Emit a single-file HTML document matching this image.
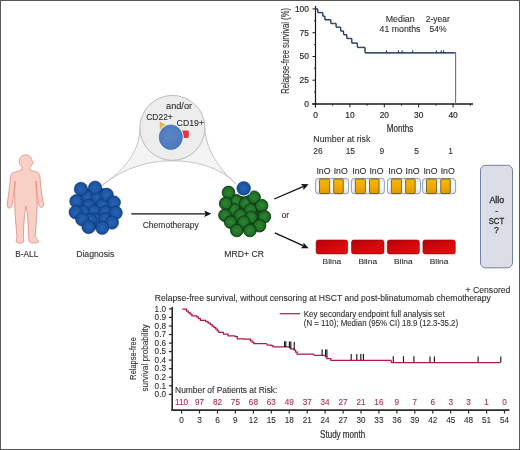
<!DOCTYPE html>
<html><head><meta charset="utf-8"><style>
html,body{margin:0;padding:0;background:#fff;}
svg{display:block;will-change:transform;}
text{font-family:"Liberation Sans", sans-serif;}
</style></head><body>
<svg width="520" height="450" viewBox="0 0 520 450">
<rect x="0.5" y="0.5" width="519" height="449" fill="#fff" stroke="#575757" stroke-width="1"/>
<path d="M22.3,167.2 C20,165.5 19.2,163.5 19.2,161 C19.2,157.5 22,154.9 25.6,154.9 C29.3,154.9 31.9,157.5 31.9,160.5 L32.8,161.5 C33.3,162.5 33,164 32,164.3 C31.5,165.8 30.5,167 29.6,167.6 L29.8,169.8 C32,171 35.5,171.5 37.5,172.3 C39,173 39.8,175 40,177.5 L40.8,186 L41.8,195 L43.2,201.5 C44.3,204 43.6,207 41.8,207.3 C40,207.6 38.8,205.8 38.5,203.5 L37.6,196 L36.3,186 L35.8,181 L36.4,190 L36.8,197 L37.2,204 L36.8,215 L35.8,228 L35.2,236.5 C36.5,238.5 38.8,240.5 38.6,242 C38,243.2 31,243.2 29.5,242.2 C28.7,241 28.8,238.5 28.6,236.5 L28.2,226 L27.6,214 L26,206 L24.6,214 L23.7,226 L23.4,236.5 C23.6,238.5 24,241 23.5,242.2 C22.5,243.3 18,243.3 16.6,242.3 C15.8,241 16.5,238.5 16.9,236.5 L16.2,228 L15.2,215 L14.8,204 L14.6,197 L14.7,190 L15.2,181 L14.5,186 L13.3,196 L12.4,203.5 C12.1,206 11,208.4 9.2,208.2 C7.4,208 7,205 7.5,202 L8.5,195 L9.6,186 L10.4,177.5 C10.6,175 11.5,173.2 13.5,172.5 C16,171.7 19.5,171 21.8,169.8 Z" fill="#f9d0c6" stroke="#e28e86" stroke-width="0.85" stroke-linejoin="round"/>
<text x="26.8" y="256.8" font-size="8.8" fill="#2e2e2e" stroke="#2e2e2e" stroke-width="0.1" text-anchor="middle" textLength="23" lengthAdjust="spacingAndGlyphs">B-ALL</text>
<path d="M140,128 C140,150 125,170 102.3,185.2 C125,167 150,160.8 172.5,160.8 C195,160.8 220,167 236,184 C221,171 205.5,150 204.9,128 Z" fill="#f4f4f4" stroke="#b8b8b8" stroke-width="0.8"/>
<circle cx="172.4" cy="127.9" r="32.5" fill="#ededed" stroke="#b4b4b4" stroke-width="0.9"/>
<defs><radialGradient id="gb" cx="0.45" cy="0.45" r="0.6"><stop offset="0" stop-color="#5a86c4"/><stop offset="1" stop-color="#4a78bc"/></radialGradient><radialGradient id="gblue" cx="0.5" cy="0.5" r="0.55"><stop offset="0" stop-color="#2864b0"/><stop offset="0.65" stop-color="#1c55a3"/><stop offset="1" stop-color="#113f86"/></radialGradient><radialGradient id="ggreen" cx="0.5" cy="0.5" r="0.55"><stop offset="0" stop-color="#2d8533"/><stop offset="0.6" stop-color="#237229"/><stop offset="1" stop-color="#0f4413"/></radialGradient><linearGradient id="gold" x1="0" y1="0" x2="0" y2="1"><stop offset="0" stop-color="#f3b80a"/><stop offset="0.5" stop-color="#f0ac04"/><stop offset="1" stop-color="#e29600"/></linearGradient><linearGradient id="goldh" x1="0" y1="0" x2="1" y2="0"><stop offset="0" stop-color="#b07800" stop-opacity="0.5"/><stop offset="0.2" stop-color="#b07800" stop-opacity="0"/><stop offset="0.8" stop-color="#b07800" stop-opacity="0"/><stop offset="1" stop-color="#b07800" stop-opacity="0.5"/></linearGradient><linearGradient id="red" x1="0" y1="0" x2="1" y2="1"><stop offset="0" stop-color="#b4000a"/><stop offset="0.55" stop-color="#d20a0c"/><stop offset="1" stop-color="#e0100c"/></linearGradient><linearGradient id="inoBg" x1="0" y1="0" x2="0" y2="1"><stop offset="0" stop-color="#e6e8ee"/><stop offset="0.5" stop-color="#fafafa"/><stop offset="1" stop-color="#e2e4ea"/></linearGradient></defs>
<polygon points="160,122.3 167.5,126.2 160.3,129.4" fill="#f2b433" stroke="#d99a18" stroke-width="0.5"/>
<rect x="181.6" y="130.4" width="7.2" height="7.6" rx="1.4" fill="#e8323e"/>
<ellipse cx="170.8" cy="137.2" rx="12.9" ry="13.7" fill="#e2eef8"/>
<ellipse cx="170.8" cy="137.2" rx="11.6" ry="12.3" fill="url(#gb)" stroke="#3f6aa8" stroke-width="0.6"/>
<text x="179.05" y="108.7" font-size="8.6" fill="#2e2e2e" stroke="#2e2e2e" stroke-width="0.1" text-anchor="middle" textLength="26" lengthAdjust="spacingAndGlyphs">and/or</text>
<text x="146.2" y="120.4" font-size="8.3" fill="#2e2e2e" stroke="#2e2e2e" stroke-width="0.1" textLength="26.6" lengthAdjust="spacingAndGlyphs">CD22+</text>
<text x="176.6" y="126.3" font-size="8.3" fill="#2e2e2e" stroke="#2e2e2e" stroke-width="0.1" textLength="27.4" lengthAdjust="spacingAndGlyphs">CD19+</text>
<ellipse cx="96" cy="208" rx="21" ry="21" fill="#164a96"/>
<circle cx="87.4" cy="197.4" r="6.7" fill="url(#gblue)" stroke="#0f3b80" stroke-width="0.6"/>
<circle cx="97.7" cy="198" r="6.7" fill="url(#gblue)" stroke="#0f3b80" stroke-width="0.6"/>
<circle cx="88.6" cy="205.7" r="6.7" fill="url(#gblue)" stroke="#0f3b80" stroke-width="0.6"/>
<circle cx="102.8" cy="204.5" r="6.7" fill="url(#gblue)" stroke="#0f3b80" stroke-width="0.6"/>
<circle cx="93.8" cy="211.5" r="6.7" fill="url(#gblue)" stroke="#0f3b80" stroke-width="0.6"/>
<circle cx="105.4" cy="212.2" r="6.7" fill="url(#gblue)" stroke="#0f3b80" stroke-width="0.6"/>
<circle cx="83" cy="212" r="6.7" fill="url(#gblue)" stroke="#0f3b80" stroke-width="0.6"/>
<circle cx="95" cy="219.3" r="6.7" fill="url(#gblue)" stroke="#0f3b80" stroke-width="0.6"/>
<circle cx="105.4" cy="219.3" r="6.7" fill="url(#gblue)" stroke="#0f3b80" stroke-width="0.6"/>
<circle cx="90" cy="220" r="6.7" fill="url(#gblue)" stroke="#0f3b80" stroke-width="0.6"/>
<circle cx="80.9" cy="189" r="6.7" fill="url(#gblue)" stroke="#0f3b80" stroke-width="0.6"/>
<circle cx="95.1" cy="187.7" r="6.7" fill="url(#gblue)" stroke="#0f3b80" stroke-width="0.6"/>
<circle cx="106.7" cy="194.8" r="6.7" fill="url(#gblue)" stroke="#0f3b80" stroke-width="0.6"/>
<circle cx="76.4" cy="201.2" r="6.7" fill="url(#gblue)" stroke="#0f3b80" stroke-width="0.6"/>
<circle cx="113.8" cy="202.5" r="6.7" fill="url(#gblue)" stroke="#0f3b80" stroke-width="0.6"/>
<circle cx="75.7" cy="212.2" r="6.7" fill="url(#gblue)" stroke="#0f3b80" stroke-width="0.6"/>
<circle cx="115.7" cy="212.8" r="6.7" fill="url(#gblue)" stroke="#0f3b80" stroke-width="0.6"/>
<circle cx="82.2" cy="219.3" r="6.7" fill="url(#gblue)" stroke="#0f3b80" stroke-width="0.6"/>
<circle cx="111.9" cy="222.5" r="6.7" fill="url(#gblue)" stroke="#0f3b80" stroke-width="0.6"/>
<circle cx="88.6" cy="227" r="6.7" fill="url(#gblue)" stroke="#0f3b80" stroke-width="0.6"/>
<circle cx="102.2" cy="227.7" r="6.7" fill="url(#gblue)" stroke="#0f3b80" stroke-width="0.6"/>
<text x="95.25" y="256.7" font-size="8.6" fill="#2e2e2e" stroke="#2e2e2e" stroke-width="0.1" text-anchor="middle" textLength="38.2" lengthAdjust="spacingAndGlyphs">Diagnosis</text>
<ellipse cx="245" cy="212" rx="19" ry="19" fill="#155019"/>
<circle cx="236.1" cy="200.8" r="6.4" fill="url(#ggreen)" stroke="#0e3f12" stroke-width="0.8"/>
<circle cx="245.7" cy="203.5" r="6.4" fill="url(#ggreen)" stroke="#0e3f12" stroke-width="0.8"/>
<circle cx="234" cy="209.7" r="6.4" fill="url(#ggreen)" stroke="#0e3f12" stroke-width="0.8"/>
<circle cx="250.6" cy="209.7" r="6.4" fill="url(#ggreen)" stroke="#0e3f12" stroke-width="0.8"/>
<circle cx="240.2" cy="215.2" r="6.4" fill="url(#ggreen)" stroke="#0e3f12" stroke-width="0.8"/>
<circle cx="251.2" cy="217.3" r="6.4" fill="url(#ggreen)" stroke="#0e3f12" stroke-width="0.8"/>
<circle cx="243.7" cy="222.1" r="6.4" fill="url(#ggreen)" stroke="#0e3f12" stroke-width="0.8"/>
<circle cx="228.5" cy="192.5" r="6.4" fill="url(#ggreen)" stroke="#0e3f12" stroke-width="0.8"/>
<circle cx="254" cy="197.3" r="6.4" fill="url(#ggreen)" stroke="#0e3f12" stroke-width="0.8"/>
<circle cx="225.7" cy="203.5" r="6.4" fill="url(#ggreen)" stroke="#0e3f12" stroke-width="0.8"/>
<circle cx="261.6" cy="205.6" r="6.4" fill="url(#ggreen)" stroke="#0e3f12" stroke-width="0.8"/>
<circle cx="225" cy="215.2" r="6.4" fill="url(#ggreen)" stroke="#0e3f12" stroke-width="0.8"/>
<circle cx="264.3" cy="216.6" r="6.4" fill="url(#ggreen)" stroke="#0e3f12" stroke-width="0.8"/>
<circle cx="230.6" cy="222.1" r="6.4" fill="url(#ggreen)" stroke="#0e3f12" stroke-width="0.8"/>
<circle cx="259.5" cy="225.6" r="6.4" fill="url(#ggreen)" stroke="#0e3f12" stroke-width="0.8"/>
<circle cx="236.8" cy="230.4" r="6.4" fill="url(#ggreen)" stroke="#0e3f12" stroke-width="0.8"/>
<circle cx="249.9" cy="230.4" r="6.4" fill="url(#ggreen)" stroke="#0e3f12" stroke-width="0.8"/>
<circle cx="243.7" cy="188.3" r="8.2" fill="#fff"/>
<circle cx="243.7" cy="188.3" r="6.9" fill="url(#gblue)" stroke="#15448e" stroke-width="0.5"/>
<text x="244.1" y="256.7" font-size="8.6" fill="#2e2e2e" stroke="#2e2e2e" stroke-width="0.1" text-anchor="middle" textLength="39.6" lengthAdjust="spacingAndGlyphs">MRD+ CR</text>
<line x1="131.2" y1="213.8" x2="205.30" y2="213.80" stroke="#111" stroke-width="1.3"/>
<polygon points="211.3,213.8 204.30,217.00 205.50,213.80 204.30,210.60" fill="#111"/>
<text x="170.7" y="228" font-size="8.5" fill="#2e2e2e" stroke="#2e2e2e" stroke-width="0.1" text-anchor="middle" textLength="56" lengthAdjust="spacingAndGlyphs">Chemotherapy</text>
<line x1="274.2" y1="199" x2="303.09" y2="186.57" stroke="#111" stroke-width="1.3"/>
<polygon points="308.6,184.2 303.43,189.91 303.27,186.49 300.91,184.03" fill="#111"/>
<line x1="274.8" y1="232.8" x2="303.14" y2="245.71" stroke="#111" stroke-width="1.3"/>
<polygon points="308.6,248.2 300.90,248.21 303.32,245.80 303.56,242.39" fill="#111"/>
<text x="285.2" y="218" font-size="8.5" fill="#2e2e2e" stroke="#2e2e2e" stroke-width="0.1" text-anchor="middle" textLength="7.6" lengthAdjust="spacingAndGlyphs">or</text>
<rect x="315.59999999999997" y="178.4" width="33" height="15.4" rx="3" fill="url(#inoBg)" stroke="#8292b4" stroke-width="0.9"/>
<rect x="319.5" y="179.0" width="10.1" height="14.5" rx="1.2" fill="url(#gold)" stroke="#5e5428" stroke-width="0.8"/>
<rect x="333.7" y="179.0" width="9.6" height="14.5" rx="1.2" fill="url(#gold)" stroke="#5e5428" stroke-width="0.8"/>
<text x="323.5" y="173.5" font-size="8.2" fill="#2e2e2e" stroke="#2e2e2e" stroke-width="0.1" text-anchor="middle" textLength="14.1" lengthAdjust="spacingAndGlyphs">InO</text>
<text x="340.7" y="173.5" font-size="8.2" fill="#2e2e2e" stroke="#2e2e2e" stroke-width="0.1" text-anchor="middle" textLength="14.1" lengthAdjust="spacingAndGlyphs">InO</text>
<rect x="351.4" y="178.4" width="33" height="15.4" rx="3" fill="url(#inoBg)" stroke="#8292b4" stroke-width="0.9"/>
<rect x="355.3" y="179.0" width="10.1" height="14.5" rx="1.2" fill="url(#gold)" stroke="#5e5428" stroke-width="0.8"/>
<rect x="369.5" y="179.0" width="9.6" height="14.5" rx="1.2" fill="url(#gold)" stroke="#5e5428" stroke-width="0.8"/>
<text x="359.3" y="173.5" font-size="8.2" fill="#2e2e2e" stroke="#2e2e2e" stroke-width="0.1" text-anchor="middle" textLength="14.1" lengthAdjust="spacingAndGlyphs">InO</text>
<text x="376.5" y="173.5" font-size="8.2" fill="#2e2e2e" stroke="#2e2e2e" stroke-width="0.1" text-anchor="middle" textLength="14.1" lengthAdjust="spacingAndGlyphs">InO</text>
<rect x="387.5" y="178.4" width="33" height="15.4" rx="3" fill="url(#inoBg)" stroke="#8292b4" stroke-width="0.9"/>
<rect x="391.40000000000003" y="179.0" width="10.1" height="14.5" rx="1.2" fill="url(#gold)" stroke="#5e5428" stroke-width="0.8"/>
<rect x="405.6" y="179.0" width="9.6" height="14.5" rx="1.2" fill="url(#gold)" stroke="#5e5428" stroke-width="0.8"/>
<text x="395.40000000000003" y="173.5" font-size="8.2" fill="#2e2e2e" stroke="#2e2e2e" stroke-width="0.1" text-anchor="middle" textLength="14.1" lengthAdjust="spacingAndGlyphs">InO</text>
<text x="412.6" y="173.5" font-size="8.2" fill="#2e2e2e" stroke="#2e2e2e" stroke-width="0.1" text-anchor="middle" textLength="14.1" lengthAdjust="spacingAndGlyphs">InO</text>
<rect x="422.59999999999997" y="178.4" width="33" height="15.4" rx="3" fill="url(#inoBg)" stroke="#8292b4" stroke-width="0.9"/>
<rect x="426.5" y="179.0" width="10.1" height="14.5" rx="1.2" fill="url(#gold)" stroke="#5e5428" stroke-width="0.8"/>
<rect x="440.7" y="179.0" width="9.6" height="14.5" rx="1.2" fill="url(#gold)" stroke="#5e5428" stroke-width="0.8"/>
<text x="430.5" y="173.5" font-size="8.2" fill="#2e2e2e" stroke="#2e2e2e" stroke-width="0.1" text-anchor="middle" textLength="14.1" lengthAdjust="spacingAndGlyphs">InO</text>
<text x="447.7" y="173.5" font-size="8.2" fill="#2e2e2e" stroke="#2e2e2e" stroke-width="0.1" text-anchor="middle" textLength="14.1" lengthAdjust="spacingAndGlyphs">InO</text>
<rect x="316.1" y="240" width="31.6" height="13.9" rx="2.2" fill="url(#red)" stroke="#a0000a" stroke-width="0.6"/>
<text x="331.9" y="264.3" font-size="8.0" fill="#2e2e2e" stroke="#2e2e2e" stroke-width="0.1" text-anchor="middle" textLength="18.6" lengthAdjust="spacingAndGlyphs">Blina</text>
<rect x="351.5" y="240" width="32.5" height="13.9" rx="2.2" fill="url(#red)" stroke="#a0000a" stroke-width="0.6"/>
<text x="367.75" y="264.3" font-size="8.0" fill="#2e2e2e" stroke="#2e2e2e" stroke-width="0.1" text-anchor="middle" textLength="18.6" lengthAdjust="spacingAndGlyphs">Blina</text>
<rect x="387.3" y="240" width="32.1" height="13.9" rx="2.2" fill="url(#red)" stroke="#a0000a" stroke-width="0.6"/>
<text x="403.35" y="264.3" font-size="8.0" fill="#2e2e2e" stroke="#2e2e2e" stroke-width="0.1" text-anchor="middle" textLength="18.6" lengthAdjust="spacingAndGlyphs">Blina</text>
<rect x="422.9" y="240" width="32.4" height="13.9" rx="2.2" fill="url(#red)" stroke="#a0000a" stroke-width="0.6"/>
<text x="439.1" y="264.3" font-size="8.0" fill="#2e2e2e" stroke="#2e2e2e" stroke-width="0.1" text-anchor="middle" textLength="18.6" lengthAdjust="spacingAndGlyphs">Blina</text>
<rect x="480.5" y="165.3" width="32" height="102.5" rx="5" fill="#dcdde6" stroke="#6d80a8" stroke-width="1"/>
<text x="496.8" y="203.3" font-size="8.6" fill="#2e2e2e" stroke="#2e2e2e" stroke-width="0.3" text-anchor="middle" textLength="14.7" lengthAdjust="spacingAndGlyphs">Allo</text>
<text x="496.7" y="213.5" font-size="8.6" fill="#2e2e2e" stroke="#2e2e2e" stroke-width="0.3" text-anchor="middle">-</text>
<text x="496.4" y="223.9" font-size="8.6" fill="#2e2e2e" stroke="#2e2e2e" stroke-width="0.3" text-anchor="middle" textLength="15.4" lengthAdjust="spacingAndGlyphs">SCT</text>
<text x="496.4" y="233.3" font-size="8.6" fill="#2e2e2e" stroke="#2e2e2e" stroke-width="0.3" text-anchor="middle">?</text>
<line x1="315.5" y1="6" x2="315.5" y2="107.3" stroke="#1a1a1a" stroke-width="1.2"/>
<line x1="312.3" y1="104.0" x2="473" y2="104.0" stroke="#1a1a1a" stroke-width="1.5"/>
<line x1="312.5" y1="104.0" x2="315.5" y2="104.0" stroke="#1a1a1a" stroke-width="1"/>
<text x="308.9" y="106.9" font-size="8.4" fill="#2e2e2e" stroke="#2e2e2e" stroke-width="0.2" text-anchor="end">0</text>
<line x1="312.5" y1="80.2" x2="315.5" y2="80.2" stroke="#1a1a1a" stroke-width="1"/>
<text x="308.9" y="83.125" font-size="8.4" fill="#2e2e2e" stroke="#2e2e2e" stroke-width="0.2" text-anchor="end">25</text>
<line x1="312.5" y1="56.5" x2="315.5" y2="56.5" stroke="#1a1a1a" stroke-width="1"/>
<text x="308.9" y="59.35" font-size="8.4" fill="#2e2e2e" stroke="#2e2e2e" stroke-width="0.2" text-anchor="end">50</text>
<line x1="312.5" y1="32.7" x2="315.5" y2="32.7" stroke="#1a1a1a" stroke-width="1"/>
<text x="308.9" y="35.574999999999996" font-size="8.4" fill="#2e2e2e" stroke="#2e2e2e" stroke-width="0.2" text-anchor="end">75</text>
<line x1="312.5" y1="8.9" x2="315.5" y2="8.9" stroke="#1a1a1a" stroke-width="1"/>
<text x="308.9" y="11.800000000000006" font-size="8.4" fill="#2e2e2e" stroke="#2e2e2e" stroke-width="0.2" text-anchor="end">100</text>
<line x1="314" y1="92.1" x2="315.5" y2="92.1" stroke="#1a1a1a" stroke-width="0.9"/>
<line x1="314" y1="68.3" x2="315.5" y2="68.3" stroke="#1a1a1a" stroke-width="0.9"/>
<line x1="314" y1="44.6" x2="315.5" y2="44.6" stroke="#1a1a1a" stroke-width="0.9"/>
<line x1="314" y1="20.8" x2="315.5" y2="20.8" stroke="#1a1a1a" stroke-width="0.9"/>
<line x1="315.5" y1="104.1" x2="315.5" y2="107.3" stroke="#1a1a1a" stroke-width="1"/>
<text x="315.5" y="117.8" font-size="8.4" fill="#2e2e2e" stroke="#2e2e2e" stroke-width="0.2" text-anchor="middle">0</text>
<line x1="332.7" y1="104.1" x2="332.7" y2="105.69999999999999" stroke="#1a1a1a" stroke-width="1"/>
<line x1="349.9" y1="104.1" x2="349.9" y2="107.3" stroke="#1a1a1a" stroke-width="1"/>
<text x="349.9" y="117.8" font-size="8.4" fill="#2e2e2e" stroke="#2e2e2e" stroke-width="0.2" text-anchor="middle">10</text>
<line x1="367.1" y1="104.1" x2="367.1" y2="105.69999999999999" stroke="#1a1a1a" stroke-width="1"/>
<line x1="384.3" y1="104.1" x2="384.3" y2="107.3" stroke="#1a1a1a" stroke-width="1"/>
<text x="384.3" y="117.8" font-size="8.4" fill="#2e2e2e" stroke="#2e2e2e" stroke-width="0.2" text-anchor="middle">20</text>
<line x1="401.5" y1="104.1" x2="401.5" y2="105.69999999999999" stroke="#1a1a1a" stroke-width="1"/>
<line x1="418.7" y1="104.1" x2="418.7" y2="107.3" stroke="#1a1a1a" stroke-width="1"/>
<text x="418.7" y="117.8" font-size="8.4" fill="#2e2e2e" stroke="#2e2e2e" stroke-width="0.2" text-anchor="middle">30</text>
<line x1="435.9" y1="104.1" x2="435.9" y2="105.69999999999999" stroke="#1a1a1a" stroke-width="1"/>
<line x1="453.1" y1="104.1" x2="453.1" y2="107.3" stroke="#1a1a1a" stroke-width="1"/>
<text x="453.1" y="117.8" font-size="8.4" fill="#2e2e2e" stroke="#2e2e2e" stroke-width="0.2" text-anchor="middle">40</text>
<line x1="470.3" y1="104.1" x2="470.3" y2="105.69999999999999" stroke="#1a1a1a" stroke-width="1"/>
<text x="400" y="131.5" font-size="10" fill="#2e2e2e" stroke="#2e2e2e" stroke-width="0.2" text-anchor="middle" textLength="26.4" lengthAdjust="spacingAndGlyphs">Months</text>
<text transform="translate(289.2,93.7) rotate(-90)" font-size="10" fill="#2e2e2e" stroke="#2e2e2e" stroke-width="0.1" textLength="85.7" lengthAdjust="spacingAndGlyphs">Relapse-free survival (%)</text>
<path d="M315.5,8.8 H317.7 V12.4 H322.7 V16.0 H324.8 V19.6 H330.7 V23.3 H336.0 V27.0 H340.6 V30.9 H343.5 V34.5 H346.7 V38.3 H351.7 V42.9 H357.2 V47.2 H364.9 V52.7 H455.6" fill="none" stroke="#4a74b4" stroke-width="1.0" transform="translate(0.3,0.5)"/>
<path d="M315.5,8.8 H317.7 V12.4 H322.7 V16.0 H324.8 V19.6 H330.7 V23.3 H336.0 V27.0 H340.6 V30.9 H343.5 V34.5 H346.7 V38.3 H351.7 V42.9 H357.2 V47.2 H364.9 V52.7 H455.6" fill="none" stroke="#22324a" stroke-width="1.0"/>
<line x1="455.6" y1="52.2" x2="455.6" y2="104" stroke="#4d78b8" stroke-width="1.1"/>
<line x1="386.5" y1="50.4" x2="386.5" y2="52.8" stroke="#1e2c40" stroke-width="1"/>
<line x1="398.4" y1="50.4" x2="398.4" y2="52.8" stroke="#1e2c40" stroke-width="1"/>
<line x1="402.1" y1="50.4" x2="402.1" y2="52.8" stroke="#1e2c40" stroke-width="1"/>
<line x1="412.7" y1="50.4" x2="412.7" y2="52.8" stroke="#1e2c40" stroke-width="1"/>
<line x1="436.4" y1="50.4" x2="436.4" y2="52.8" stroke="#1e2c40" stroke-width="1"/>
<line x1="441.2" y1="50.4" x2="441.2" y2="52.8" stroke="#1e2c40" stroke-width="1"/>
<line x1="443.6" y1="50.4" x2="443.6" y2="52.8" stroke="#1e2c40" stroke-width="1"/>
<text x="400.2" y="22.3" font-size="8.5" fill="#2e2e2e" stroke="#2e2e2e" stroke-width="0.1" text-anchor="middle" textLength="29" lengthAdjust="spacingAndGlyphs">Median</text>
<text x="400" y="31.9" font-size="8.5" fill="#2e2e2e" stroke="#2e2e2e" stroke-width="0.1" text-anchor="middle" textLength="41" lengthAdjust="spacingAndGlyphs">41 months</text>
<text x="437.8" y="22.3" font-size="8.5" fill="#2e2e2e" stroke="#2e2e2e" stroke-width="0.1" text-anchor="middle" textLength="24" lengthAdjust="spacingAndGlyphs">2-year</text>
<text x="438" y="31.9" font-size="8.5" fill="#2e2e2e" stroke="#2e2e2e" stroke-width="0.1" text-anchor="middle" textLength="17" lengthAdjust="spacingAndGlyphs">54%</text>
<text x="313.3" y="142" font-size="8.5" fill="#2e2e2e" stroke="#2e2e2e" stroke-width="0.1" textLength="57" lengthAdjust="spacingAndGlyphs">Number at risk</text>
<text x="318" y="154.2" font-size="8.4" fill="#2e2e2e" stroke="#2e2e2e" stroke-width="0.1" text-anchor="middle">26</text>
<text x="350.3" y="154.2" font-size="8.4" fill="#2e2e2e" stroke="#2e2e2e" stroke-width="0.1" text-anchor="middle">15</text>
<text x="381.9" y="154.2" font-size="8.4" fill="#2e2e2e" stroke="#2e2e2e" stroke-width="0.1" text-anchor="middle">9</text>
<text x="416.5" y="154.2" font-size="8.4" fill="#2e2e2e" stroke="#2e2e2e" stroke-width="0.1" text-anchor="middle">5</text>
<text x="450.5" y="154.2" font-size="8.4" fill="#2e2e2e" stroke="#2e2e2e" stroke-width="0.1" text-anchor="middle">1</text>
<text x="154.8" y="301.1" font-size="8.3" fill="#2e2e2e" stroke="#2e2e2e" stroke-width="0.1" textLength="336" lengthAdjust="spacingAndGlyphs">Relapse-free survival, without censoring at HSCT and post-blinatumomab chemotherapy</text>
<text x="465.6" y="293.4" font-size="8.3" fill="#2e2e2e" stroke="#2e2e2e" stroke-width="0.1" textLength="44.8" lengthAdjust="spacingAndGlyphs">+ Censored</text>
<line x1="172.2" y1="307" x2="172.2" y2="410.9" stroke="#2a2a2a" stroke-width="1.6"/>
<line x1="171.4" y1="410.1" x2="509.4" y2="410.1" stroke="#2a2e2c" stroke-width="1.7"/>
<line x1="168.9" y1="394.3" x2="172.3" y2="394.3" stroke="#2a2a2a" stroke-width="1.2"/>
<text x="166" y="397.1" font-size="8.2" fill="#2e2e2e" stroke="#2e2e2e" stroke-width="0.1" text-anchor="end">0.0</text>
<line x1="168.9" y1="385.8" x2="172.3" y2="385.8" stroke="#2a2a2a" stroke-width="1.2"/>
<text x="166" y="388.56" font-size="8.2" fill="#2e2e2e" stroke="#2e2e2e" stroke-width="0.1" text-anchor="end">0.1</text>
<line x1="168.9" y1="377.2" x2="172.3" y2="377.2" stroke="#2a2a2a" stroke-width="1.2"/>
<text x="166" y="380.02000000000004" font-size="8.2" fill="#2e2e2e" stroke="#2e2e2e" stroke-width="0.1" text-anchor="end">0.2</text>
<line x1="168.9" y1="368.7" x2="172.3" y2="368.7" stroke="#2a2a2a" stroke-width="1.2"/>
<text x="166" y="371.48" font-size="8.2" fill="#2e2e2e" stroke="#2e2e2e" stroke-width="0.1" text-anchor="end">0.3</text>
<line x1="168.9" y1="360.1" x2="172.3" y2="360.1" stroke="#2a2a2a" stroke-width="1.2"/>
<text x="166" y="362.94" font-size="8.2" fill="#2e2e2e" stroke="#2e2e2e" stroke-width="0.1" text-anchor="end">0.4</text>
<line x1="168.9" y1="351.6" x2="172.3" y2="351.6" stroke="#2a2a2a" stroke-width="1.2"/>
<text x="166" y="354.40000000000003" font-size="8.2" fill="#2e2e2e" stroke="#2e2e2e" stroke-width="0.1" text-anchor="end">0.5</text>
<line x1="168.9" y1="343.1" x2="172.3" y2="343.1" stroke="#2a2a2a" stroke-width="1.2"/>
<text x="166" y="345.86" font-size="8.2" fill="#2e2e2e" stroke="#2e2e2e" stroke-width="0.1" text-anchor="end">0.6</text>
<line x1="168.9" y1="334.5" x2="172.3" y2="334.5" stroke="#2a2a2a" stroke-width="1.2"/>
<text x="166" y="337.32" font-size="8.2" fill="#2e2e2e" stroke="#2e2e2e" stroke-width="0.1" text-anchor="end">0.7</text>
<line x1="168.9" y1="326.0" x2="172.3" y2="326.0" stroke="#2a2a2a" stroke-width="1.2"/>
<text x="166" y="328.78000000000003" font-size="8.2" fill="#2e2e2e" stroke="#2e2e2e" stroke-width="0.1" text-anchor="end">0.8</text>
<line x1="168.9" y1="317.4" x2="172.3" y2="317.4" stroke="#2a2a2a" stroke-width="1.2"/>
<text x="166" y="320.24" font-size="8.2" fill="#2e2e2e" stroke="#2e2e2e" stroke-width="0.1" text-anchor="end">0.9</text>
<line x1="168.9" y1="308.9" x2="172.3" y2="308.9" stroke="#2a2a2a" stroke-width="1.2"/>
<text x="166" y="311.7" font-size="8.2" fill="#2e2e2e" stroke="#2e2e2e" stroke-width="0.1" text-anchor="end">1.0</text>
<line x1="181.6" y1="410.3" x2="181.6" y2="413.5" stroke="#2a2a2a" stroke-width="1.2"/>
<text x="181.6" y="423.4" font-size="8.2" fill="#2e2e2e" stroke="#2e2e2e" stroke-width="0.1" text-anchor="middle">0</text>
<text x="181.6" y="404.5" font-size="8.2" fill="#a8304e" stroke="#a8304e" stroke-width="0.1" text-anchor="middle">110</text>
<line x1="199.5" y1="410.3" x2="199.5" y2="413.5" stroke="#2a2a2a" stroke-width="1.2"/>
<text x="199.5" y="423.4" font-size="8.2" fill="#2e2e2e" stroke="#2e2e2e" stroke-width="0.1" text-anchor="middle">3</text>
<text x="199.5" y="404.5" font-size="8.2" fill="#a8304e" stroke="#a8304e" stroke-width="0.1" text-anchor="middle">97</text>
<line x1="217.5" y1="410.3" x2="217.5" y2="413.5" stroke="#2a2a2a" stroke-width="1.2"/>
<text x="217.5" y="423.4" font-size="8.2" fill="#2e2e2e" stroke="#2e2e2e" stroke-width="0.1" text-anchor="middle">6</text>
<text x="217.5" y="404.5" font-size="8.2" fill="#a8304e" stroke="#a8304e" stroke-width="0.1" text-anchor="middle">82</text>
<line x1="235.4" y1="410.3" x2="235.4" y2="413.5" stroke="#2a2a2a" stroke-width="1.2"/>
<text x="235.4" y="423.4" font-size="8.2" fill="#2e2e2e" stroke="#2e2e2e" stroke-width="0.1" text-anchor="middle">9</text>
<text x="235.4" y="404.5" font-size="8.2" fill="#a8304e" stroke="#a8304e" stroke-width="0.1" text-anchor="middle">75</text>
<line x1="253.4" y1="410.3" x2="253.4" y2="413.5" stroke="#2a2a2a" stroke-width="1.2"/>
<text x="253.4" y="423.4" font-size="8.2" fill="#2e2e2e" stroke="#2e2e2e" stroke-width="0.1" text-anchor="middle">12</text>
<text x="253.4" y="404.5" font-size="8.2" fill="#a8304e" stroke="#a8304e" stroke-width="0.1" text-anchor="middle">68</text>
<line x1="271.3" y1="410.3" x2="271.3" y2="413.5" stroke="#2a2a2a" stroke-width="1.2"/>
<text x="271.3" y="423.4" font-size="8.2" fill="#2e2e2e" stroke="#2e2e2e" stroke-width="0.1" text-anchor="middle">15</text>
<text x="271.3" y="404.5" font-size="8.2" fill="#a8304e" stroke="#a8304e" stroke-width="0.1" text-anchor="middle">63</text>
<line x1="289.2" y1="410.3" x2="289.2" y2="413.5" stroke="#2a2a2a" stroke-width="1.2"/>
<text x="289.2" y="423.4" font-size="8.2" fill="#2e2e2e" stroke="#2e2e2e" stroke-width="0.1" text-anchor="middle">18</text>
<text x="289.2" y="404.5" font-size="8.2" fill="#a8304e" stroke="#a8304e" stroke-width="0.1" text-anchor="middle">49</text>
<line x1="307.2" y1="410.3" x2="307.2" y2="413.5" stroke="#2a2a2a" stroke-width="1.2"/>
<text x="307.2" y="423.4" font-size="8.2" fill="#2e2e2e" stroke="#2e2e2e" stroke-width="0.1" text-anchor="middle">21</text>
<text x="307.2" y="404.5" font-size="8.2" fill="#a8304e" stroke="#a8304e" stroke-width="0.1" text-anchor="middle">37</text>
<line x1="325.1" y1="410.3" x2="325.1" y2="413.5" stroke="#2a2a2a" stroke-width="1.2"/>
<text x="325.1" y="423.4" font-size="8.2" fill="#2e2e2e" stroke="#2e2e2e" stroke-width="0.1" text-anchor="middle">24</text>
<text x="325.1" y="404.5" font-size="8.2" fill="#a8304e" stroke="#a8304e" stroke-width="0.1" text-anchor="middle">34</text>
<line x1="343.1" y1="410.3" x2="343.1" y2="413.5" stroke="#2a2a2a" stroke-width="1.2"/>
<text x="343.1" y="423.4" font-size="8.2" fill="#2e2e2e" stroke="#2e2e2e" stroke-width="0.1" text-anchor="middle">27</text>
<text x="343.1" y="404.5" font-size="8.2" fill="#a8304e" stroke="#a8304e" stroke-width="0.1" text-anchor="middle">27</text>
<line x1="361.0" y1="410.3" x2="361.0" y2="413.5" stroke="#2a2a2a" stroke-width="1.2"/>
<text x="361.0" y="423.4" font-size="8.2" fill="#2e2e2e" stroke="#2e2e2e" stroke-width="0.1" text-anchor="middle">30</text>
<text x="361.0" y="404.5" font-size="8.2" fill="#a8304e" stroke="#a8304e" stroke-width="0.1" text-anchor="middle">21</text>
<line x1="378.9" y1="410.3" x2="378.9" y2="413.5" stroke="#2a2a2a" stroke-width="1.2"/>
<text x="378.9" y="423.4" font-size="8.2" fill="#2e2e2e" stroke="#2e2e2e" stroke-width="0.1" text-anchor="middle">33</text>
<text x="378.9" y="404.5" font-size="8.2" fill="#a8304e" stroke="#a8304e" stroke-width="0.1" text-anchor="middle">16</text>
<line x1="396.9" y1="410.3" x2="396.9" y2="413.5" stroke="#2a2a2a" stroke-width="1.2"/>
<text x="396.9" y="423.4" font-size="8.2" fill="#2e2e2e" stroke="#2e2e2e" stroke-width="0.1" text-anchor="middle">36</text>
<text x="396.9" y="404.5" font-size="8.2" fill="#a8304e" stroke="#a8304e" stroke-width="0.1" text-anchor="middle">9</text>
<line x1="414.8" y1="410.3" x2="414.8" y2="413.5" stroke="#2a2a2a" stroke-width="1.2"/>
<text x="414.8" y="423.4" font-size="8.2" fill="#2e2e2e" stroke="#2e2e2e" stroke-width="0.1" text-anchor="middle">39</text>
<text x="414.8" y="404.5" font-size="8.2" fill="#a8304e" stroke="#a8304e" stroke-width="0.1" text-anchor="middle">7</text>
<line x1="432.8" y1="410.3" x2="432.8" y2="413.5" stroke="#2a2a2a" stroke-width="1.2"/>
<text x="432.8" y="423.4" font-size="8.2" fill="#2e2e2e" stroke="#2e2e2e" stroke-width="0.1" text-anchor="middle">42</text>
<text x="432.8" y="404.5" font-size="8.2" fill="#a8304e" stroke="#a8304e" stroke-width="0.1" text-anchor="middle">6</text>
<line x1="450.7" y1="410.3" x2="450.7" y2="413.5" stroke="#2a2a2a" stroke-width="1.2"/>
<text x="450.7" y="423.4" font-size="8.2" fill="#2e2e2e" stroke="#2e2e2e" stroke-width="0.1" text-anchor="middle">45</text>
<text x="450.7" y="404.5" font-size="8.2" fill="#a8304e" stroke="#a8304e" stroke-width="0.1" text-anchor="middle">3</text>
<line x1="468.6" y1="410.3" x2="468.6" y2="413.5" stroke="#2a2a2a" stroke-width="1.2"/>
<text x="468.6" y="423.4" font-size="8.2" fill="#2e2e2e" stroke="#2e2e2e" stroke-width="0.1" text-anchor="middle">48</text>
<text x="468.6" y="404.5" font-size="8.2" fill="#a8304e" stroke="#a8304e" stroke-width="0.1" text-anchor="middle">3</text>
<line x1="486.6" y1="410.3" x2="486.6" y2="413.5" stroke="#2a2a2a" stroke-width="1.2"/>
<text x="486.6" y="423.4" font-size="8.2" fill="#2e2e2e" stroke="#2e2e2e" stroke-width="0.1" text-anchor="middle">51</text>
<text x="486.6" y="404.5" font-size="8.2" fill="#a8304e" stroke="#a8304e" stroke-width="0.1" text-anchor="middle">1</text>
<line x1="504.5" y1="410.3" x2="504.5" y2="413.5" stroke="#2a2a2a" stroke-width="1.2"/>
<text x="504.5" y="423.4" font-size="8.2" fill="#2e2e2e" stroke="#2e2e2e" stroke-width="0.1" text-anchor="middle">54</text>
<text x="504.5" y="404.5" font-size="8.2" fill="#a8304e" stroke="#a8304e" stroke-width="0.1" text-anchor="middle">0</text>
<text x="175.1" y="392.7" font-size="8.4" fill="#2e2e2e" stroke="#2e2e2e" stroke-width="0.1" textLength="102.3" lengthAdjust="spacingAndGlyphs">Number of Patients at Risk:</text>
<text x="320.1" y="437.6" font-size="10.2" fill="#2e2e2e" stroke="#2e2e2e" stroke-width="0.2" textLength="45.1" lengthAdjust="spacingAndGlyphs">Study month</text>
<text transform="translate(135.6,358.45) rotate(-90)" font-size="9.2" fill="#2e2e2e" stroke="#2e2e2e" stroke-width="0.1" text-anchor="middle" textLength="42.5" lengthAdjust="spacingAndGlyphs">Relapse-free</text>
<text transform="translate(148.4,357.9) rotate(-90)" font-size="9.2" fill="#2e2e2e" stroke="#2e2e2e" stroke-width="0.1" text-anchor="middle" textLength="67.2" lengthAdjust="spacingAndGlyphs">survival probability</text>
<line x1="279.8" y1="313.7" x2="300" y2="313.7" stroke="#b01a44" stroke-width="1.2"/>
<text x="303.8" y="316.5" font-size="8.2" fill="#2e2e2e" stroke="#2e2e2e" stroke-width="0.1" textLength="140.8" lengthAdjust="spacingAndGlyphs">Key secondary endpoint full analysis set</text>
<text x="303.8" y="326.2" font-size="8.2" fill="#2e2e2e" stroke="#2e2e2e" stroke-width="0.1" textLength="154.3" lengthAdjust="spacingAndGlyphs">(N = 110); Median (95% CI) 18.9 (12.3-35.2)</text>
<path d="M182.4,309.2 H186.50 V311.10 H188.30 V312.67 H190.10 V314.23 H191.90 V315.80 H196.50 V316.90 H198.45 V318.60 H200.40 V320.30 H205.80 V321.50 H208.10 V323.05 H210.40 V324.60 H212.20 V326.13 H214.00 V327.67 H215.80 V329.20 H217.30 V330.75 H218.80 V332.30 H223.45 V334.05 H228.10 V335.80 H235.00 V336.60 H237.30 V338.90 H244.20 V339.20 H250.40 V340.80 H252.10 V342.15 H253.80 V343.50 L266.3,343.5 L267.3,345 H271.20 V345.50 H273.00 V346.90 L284.6,346.9 H290.40 V348.80 H294.20 V350.20 H295.65 V352.10 H297.10 V354.00 L313.5,354 L314.4,355.4 L324,355.4 H325.45 V356.95 H326.90 V358.50 H330.80 V360.40 L391,360.4 L391.5,362.6 L500.8,362.6" fill="none" stroke="#b01a44" stroke-width="1.25" stroke-linejoin="miter"/>
<line x1="284.6" y1="341.2" x2="284.6" y2="347" stroke="#1a1a1a" stroke-width="1.15"/>
<line x1="285.8" y1="341.2" x2="285.8" y2="347" stroke="#1a1a1a" stroke-width="1.15"/>
<line x1="289.4" y1="341.5" x2="289.4" y2="348" stroke="#1a1a1a" stroke-width="1.15"/>
<line x1="290.8" y1="341.5" x2="290.8" y2="348.5" stroke="#1a1a1a" stroke-width="1.15"/>
<line x1="294.2" y1="342" x2="294.2" y2="349.5" stroke="#1a1a1a" stroke-width="1.15"/>
<line x1="322.1" y1="349.2" x2="322.1" y2="355" stroke="#1a1a1a" stroke-width="1.15"/>
<line x1="325.6" y1="349.5" x2="325.6" y2="355.5" stroke="#1a1a1a" stroke-width="1.15"/>
<line x1="326.9" y1="349.5" x2="326.9" y2="357" stroke="#1a1a1a" stroke-width="1.15"/>
<line x1="351.2" y1="354" x2="351.2" y2="360" stroke="#1a1a1a" stroke-width="1.15"/>
<line x1="356.8" y1="354" x2="356.8" y2="360" stroke="#1a1a1a" stroke-width="1.15"/>
<line x1="360.8" y1="354" x2="360.8" y2="360" stroke="#1a1a1a" stroke-width="1.15"/>
<line x1="363.4" y1="354" x2="363.4" y2="360" stroke="#1a1a1a" stroke-width="1.15"/>
<line x1="393.3" y1="356.2" x2="393.3" y2="362" stroke="#1a1a1a" stroke-width="1.15"/>
<line x1="403.5" y1="356.2" x2="403.5" y2="362" stroke="#1a1a1a" stroke-width="1.15"/>
<line x1="413.9" y1="356.2" x2="413.9" y2="362" stroke="#1a1a1a" stroke-width="1.15"/>
<line x1="430" y1="356.5" x2="430" y2="362" stroke="#1a1a1a" stroke-width="1.15"/>
<line x1="434.4" y1="356.5" x2="434.4" y2="362" stroke="#1a1a1a" stroke-width="1.15"/>
<line x1="478.1" y1="356.5" x2="478.1" y2="362" stroke="#1a1a1a" stroke-width="1.15"/>
<line x1="500.8" y1="356.5" x2="500.8" y2="362" stroke="#1a1a1a" stroke-width="1.15"/>
</svg>
</body></html>
